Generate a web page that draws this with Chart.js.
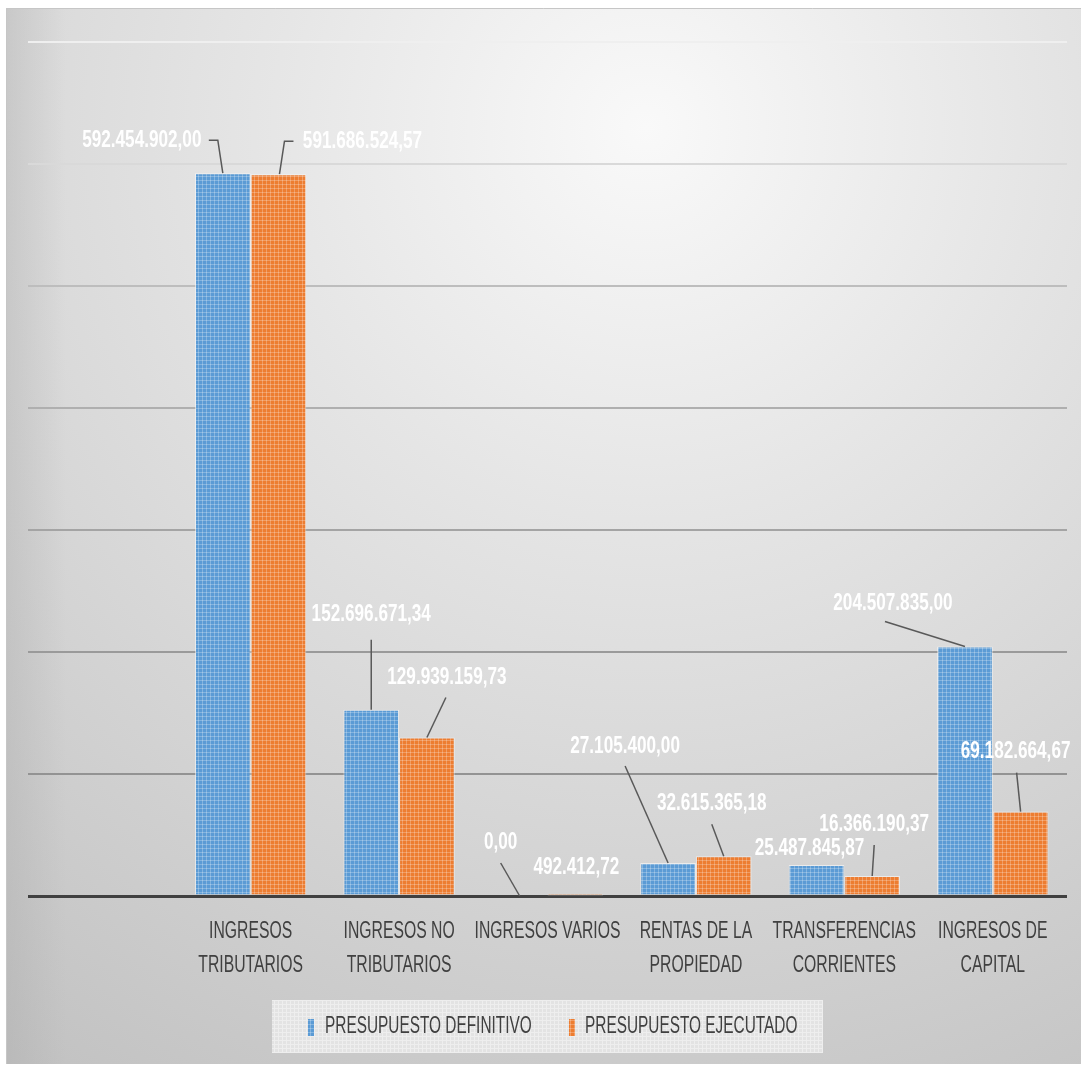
<!DOCTYPE html>
<html>
<head>
<meta charset="utf-8">
<script src="https://cdn.jsdelivr.net/npm/chart.js@4/dist/chart.umd.min.js"></script>
<style>
  html, body { margin:0; padding:0; background:#ffffff; }
  #wrap { position:absolute; left:6px; top:8px; width:1075px; height:1056px; }
</style>
</head>
<body>
<div id="wrap"><canvas id="c" width="1075" height="1056"></canvas></div>
<script>
// ---------- DATA ----------
const categories = [
  '',
  ['INGRESOS', 'TRIBUTARIOS'],
  ['INGRESOS NO', 'TRIBUTARIOS'],
  ['INGRESOS VARIOS'],
  ['RENTAS DE LA', 'PROPIEDAD'],
  ['TRANSFERENCIAS', 'CORRIENTES'],
  ['INGRESOS DE', 'CAPITAL']
];
const seriesNames = ['PRESUPUESTO DEFINITIVO', 'PRESUPUESTO EJECUTADO'];
const presupuestoDefinitivo = [null, 592454902.00, 152696671.34, 0.00, 27105400.00, 25487845.87, 204507835.00];
const presupuestoEjecutado  = [null, 591686524.57, 129939159.73, 492412.72, 32615365.18, 16366190.37, 69182664.67];
const yMax = 700000000;
const yStep = 100000000;

// ---------- STYLE ----------
const seriesColors = ['#5b9bd5', '#ed7d31'];
const FONT = '"Liberation Sans", Arial, sans-serif';

// label placement relative to bar top-center (pixels)
const labelLayout = [
  [null,
   {dx:-81, dy:-33, leader:[[-14,-33],[-5,-33],[0,0]]},
   {dx:0,   dy:-95, leader:[[0,-70],[0,0]]},
   {dx:-19, dy:-53, leader:[[-19,-33],[0,0]]},
   {dx:-43, dy:-116, leader:[[-43,-97],[0,0]]},
   {dx:-7,  dy:-16},
   {dx:-72, dy:-43, leader:[[-80,-25],[0,0]]}],
  [null,
   {dx:84,  dy:-33, leader:[[15,-33],[6,-33],[1,0]]},
   {dx:20,  dy:-60, leader:[[19,-40],[0,0]]},
   {dx:1,   dy:-28},
   {dx:-12, dy:-53, leader:[[-12,-32],[0,0]]},
   {dx:2,   dy:-52, leader:[[2,-31],[0,0]]},
   {dx:-5,  dy:-60, leader:[[-4,-39],[0,0]]}]
];

function fmt(v) {
  const neg = v < 0; v = Math.abs(v);
  const s = v.toFixed(2);
  let [ip, dp] = s.split('.');
  ip = ip.replace(/\B(?=(\d{3})+(?!\d))/g, '.');
  return (neg ? '-' : '') + ip + ',' + dp;
}

function makePattern(base, line, size) {
  const c = document.createElement('canvas');
  c.width = size; c.height = size;
  const x = c.getContext('2d');
  x.fillStyle = base; x.fillRect(0, 0, size, size);
  x.fillStyle = line;
  x.fillRect(0, 0, size, 1);
  x.fillRect(0, 0, 1, size);
  return x;
}

function drawText(ctx, str, x, y, size, weight, color, sx, align) {
  ctx.save();
  ctx.translate(x, y);
  ctx.scale(sx, 1);
  ctx.font = weight + ' ' + size + 'px ' + FONT;
  ctx.fillStyle = color;
  ctx.textAlign = align;
  ctx.textBaseline = 'middle';
  ctx.fillText(str, 0, 0);
  ctx.restore();
}

const canvas = document.getElementById('c');
const ctx0 = canvas.getContext('2d');
const patBlue = ctx0.createPattern(makePattern('#5b9bd5', 'rgba(255,255,255,0.25)', 4).canvas, 'repeat');
const patOrange = ctx0.createPattern(makePattern('#ed7d31', 'rgba(255,255,255,0.25)', 4).canvas, 'repeat');
const patLegend = ctx0.createPattern(makePattern('#e3e3e3', '#eeeeee', 4).canvas, 'repeat');

const gridColors = {0:'#404040', 100:'#939393', 200:'#9a9a9a', 300:'#a4a4a4', 400:'#afafaf', 500:'#bdbdbd', 600:'#d9d9d9', 700:'#efefef'};

const bgPlugin = {
  id: 'bg',
  beforeDraw(chart) {
    const ctx = chart.ctx;
    const w = chart.width, h = chart.height;
    ctx.save();
    const g = ctx.createRadialGradient(640, 120, 0, 640, 120, 1120);
    g.addColorStop(0, '#f9f9f9');
    g.addColorStop(0.35, '#e5e5e5');
    g.addColorStop(1, '#c2c2c2');
    ctx.fillStyle = g;
    ctx.fillRect(0, 0, w, h);
    // left vignette
    const lg = ctx.createLinearGradient(0, 0, 60, 0);
    lg.addColorStop(0, 'rgba(170,170,170,0.35)');
    lg.addColorStop(1, 'rgba(170,170,170,0)');
    ctx.fillStyle = lg;
    ctx.fillRect(0, 0, 60, h);
    ctx.strokeStyle = '#c6c6c6';
    ctx.lineWidth = 1;
    ctx.beginPath();
    ctx.moveTo(0.5, h); ctx.lineTo(0.5, 0.5); ctx.lineTo(w, 0.5);
    ctx.stroke();
    ctx.restore();
  }
};

const labelPlugin = {
  id: 'labels',
  afterDraw(chart) {
    const ctx = chart.ctx;
    const xs = chart.scales.x;
    const base = chart.chartArea.bottom;
    // category labels
    categories.forEach((lab, i) => {
      const lines = Array.isArray(lab) ? lab : [lab];
      const cx = xs.getPixelForValue(i);
      lines.forEach((ln, k) => {
        if (ln) drawText(ctx, ln, cx, base + 36 + k * 34, 23.5, 'normal', '#404040', 0.67, 'center');
      });
    });
    // data labels + leaders
    chart.data.datasets.forEach((ds, di) => {
      const meta = chart.getDatasetMeta(di);
      meta.data.forEach((bar, i) => {
        const v = ds.data[i];
        const L = labelLayout[di][i];
        if (v === null || v === undefined || !L) return;
        const bx = bar.x, by = bar.y;
        if (L.leader) {
          ctx.save();
          ctx.strokeStyle = '#595959';
          ctx.lineWidth = 1.5;
          ctx.beginPath();
          L.leader.forEach((p, k) => {
            const px = bx + p[0], py = by + p[1];
            if (k === 0) ctx.moveTo(px, py); else ctx.lineTo(px, py);
          });
          ctx.stroke();
          ctx.restore();
        }
        drawText(ctx, fmt(v), bx + L.dx, by + L.dy, 23.5, 'bold', '#ffffff', 0.73, 'center');
      });
    });
    // legend
    const lx = 266, ly = 992, lw = 551, lh = 53;
    ctx.save();
    ctx.fillStyle = patLegend;
    ctx.fillRect(lx, ly, lw, lh);
    ctx.restore();
    const items = [
      {mx: 302, tx: 319},
      {mx: 563, tx: 579}
    ];
    chart.data.datasets.forEach((ds, di) => {
      const it = items[di];
      ctx.save();
      ctx.fillStyle = di === 0 ? patBlue : patOrange;
      ctx.fillRect(it.mx, ly + 19, 6, 17);
      ctx.restore();
      drawText(ctx, ds.label, it.tx, ly + 27, 23.5, 'normal', '#404040', 0.655, 'left');
    });
  }
};

new Chart(canvas, {
  type: 'bar',
  data: {
    labels: categories,
    datasets: [
      { label: seriesNames[0], data: presupuestoDefinitivo, backgroundColor: patBlue,
        borderColor: 'rgba(255,255,255,0.55)', borderWidth: 1 },
      { label: seriesNames[1], data: presupuestoEjecutado, backgroundColor: patOrange,
        borderColor: 'rgba(255,255,255,0.55)', borderWidth: 1 }
    ]
  },
  options: {
    responsive: false,
    animation: false,
    devicePixelRatio: 1,
    layout: { padding: { left: 22, right: 14, top: 34, bottom: 0 } },
    plugins: { legend: { display: false }, tooltip: { enabled: false } },
    datasets: { bar: { categoryPercentage: 0.75, barPercentage: 1.0 } },
    scales: {
      x: {
        grid: { display: false },
        border: { display: false },
        ticks: { display: false },
        afterFit(s) { s.height = 168; }
      },
      y: {
        min: 0, max: yMax,
        ticks: { display: false, stepSize: yStep },
        border: { display: false },
        grid: {
          drawTicks: false,
          tickLength: 0,
          color: (c) => gridColors[Math.round(c.tick.value / 1e6)] || '#aaaaaa',
          lineWidth: (c) => c.tick.value === 0 ? 3 : 2
        },
        afterFit(s) { s.width = 0; }
      }
    }
  },
  plugins: [bgPlugin, labelPlugin]
});
</script>
</body>
</html>
